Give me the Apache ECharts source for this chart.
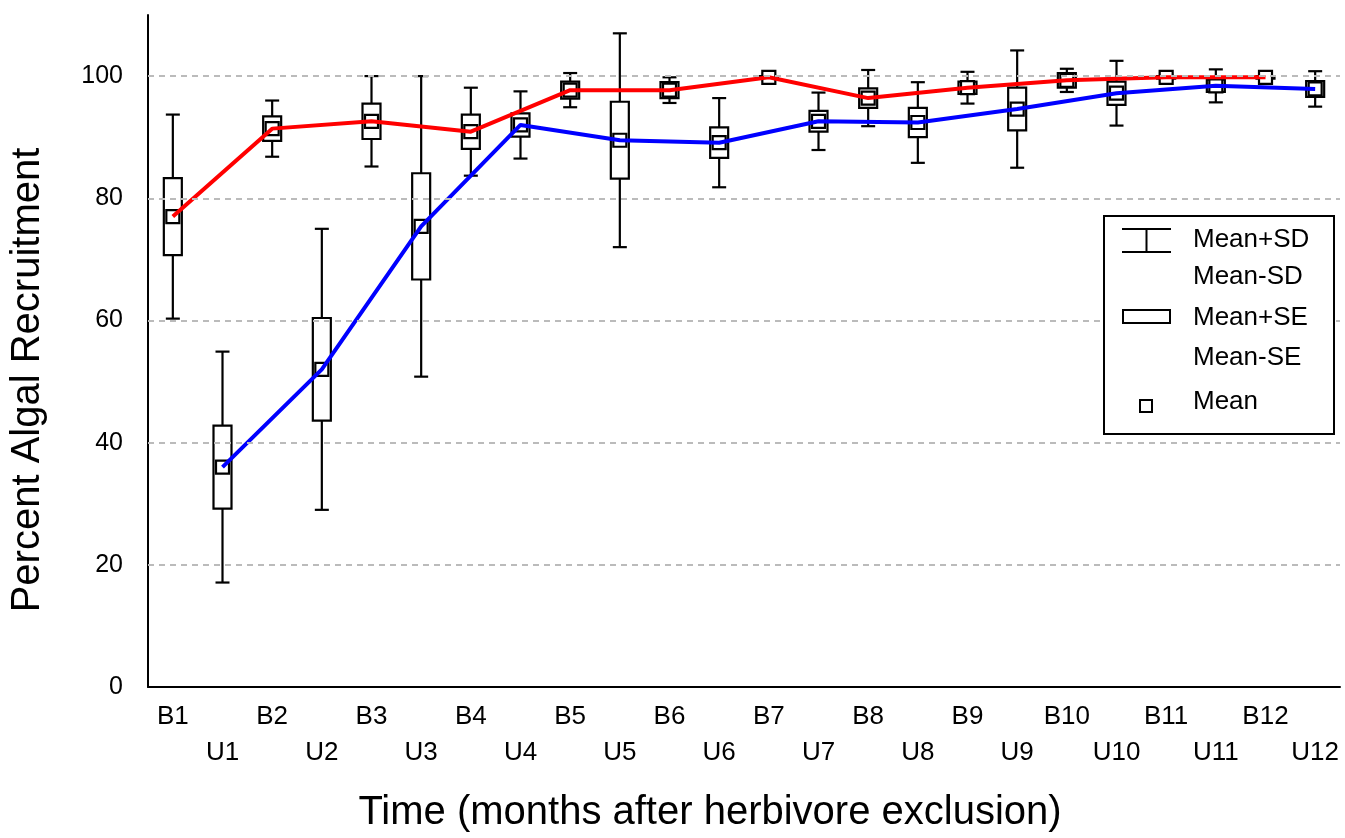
<!DOCTYPE html>
<html>
<head>
<meta charset="utf-8">
<script src="https://cdn.jsdelivr.net/npm/echarts@6/dist/echarts.min.js"></script>
<style>
  html, body { margin: 0; padding: 0; background: #fff; }
  #chart { width: 1345px; height: 838px; }
</style>
</head>
<body>
<div id="chart"></div>
<script>
// B = browsed (open), U = herbivores excluded
var bLabels = ['B1', 'B2', 'B3', 'B4', 'B5', 'B6', 'B7', 'B8', 'B9', 'B10', 'B11', 'B12'];
var uLabels = ['U1', 'U2', 'U3', 'U4', 'U5', 'U6', 'U7', 'U8', 'U9', 'U10', 'U11', 'U12'];

var bMean = [77.0, 91.4, 92.6, 90.9, 97.7, 97.7, 99.8, 96.4, 98.1, 99.3, 99.8, 99.8];
var bSE   = [6.3, 2.0, 2.9, 2.8, 1.4, 1.3, 0.2, 1.6, 1.0, 1.2, 0.2, 0.2];
var bSD   = [16.7, 4.6, 7.4, 7.2, 2.8, 2.1, 0.6, 4.6, 2.6, 1.9, 0.4, 0.2];

var uMean = [36.0, 52.0, 75.4, 92.0, 89.5, 89.1, 92.6, 92.4, 94.6, 97.2, 98.4, 97.9];
var uSE   = [6.8, 8.4, 8.7, 1.9, 6.3, 2.5, 1.7, 2.4, 3.5, 1.9, 1.0, 1.3];
var uSD   = [18.9, 23.0, 24.6, 5.5, 17.5, 7.3, 4.7, 6.6, 9.6, 5.3, 2.7, 2.9];

var yTicks = [0, 20, 40, 60, 80, 100];

var FONT = 'Liberation Sans, Arial, sans-serif';

// interleave B/U into one category axis
var categories = [];
var boxData = [];
var redLine = [];
var blueLine = [];
for (var i = 0; i < bLabels.length; i++) {
  categories.push(bLabels[i], uLabels[i]);
  boxData.push([2 * i, bMean[i], bSE[i], bSD[i]]);
  boxData.push([2 * i + 1, uMean[i], uSE[i], uSD[i]]);
  redLine.push(bMean[i], null);
  blueLine.push(null, uMean[i]);
}

function renderBox(params, api) {
  var idx = api.value(0);
  var mean = api.value(1), se = api.value(2), sd = api.value(3);
  var c = api.coord([idx, mean]);
  var sdTop = api.coord([idx, mean + sd])[1];
  var sdBot = api.coord([idx, mean - sd])[1];
  var seTop = api.coord([idx, mean + se])[1];
  var seBot = api.coord([idx, mean - se])[1];
  var bw = 18, cw = 14, ms = 13;
  var st = { stroke: '#000', lineWidth: 2.2, fill: null };
  return {
    type: 'group',
    children: [
      { type: 'line', shape: { x1: c[0], y1: sdTop, x2: c[0], y2: sdBot }, style: st },
      { type: 'line', shape: { x1: c[0] - cw / 2, y1: sdTop, x2: c[0] + cw / 2, y2: sdTop }, style: st },
      { type: 'line', shape: { x1: c[0] - cw / 2, y1: sdBot, x2: c[0] + cw / 2, y2: sdBot }, style: st },
      { type: 'rect', shape: { x: c[0] - bw / 2, y: seTop, width: bw, height: seBot - seTop },
        style: { fill: '#fff', stroke: '#000', lineWidth: 2.2 } },
      { type: 'rect', shape: { x: c[0] - ms / 2, y: c[1] - ms / 2, width: ms, height: ms },
        style: { fill: '#fff', stroke: '#000', lineWidth: 2.2 } }
    ]
  };
}

var chart = echarts.init(document.getElementById('chart'));

// legend drawn by hand (mean±SD / mean±SE / mean)
var lgX = 1103, lgY = 215;
var legendGraphic = [
  { type: 'rect', left: lgX, top: lgY, shape: { width: 230, height: 218 },
    style: { fill: '#fff', stroke: '#000', lineWidth: 2 }, z: 100 },
  { type: 'line', shape: { x1: 1122, y1: 229, x2: 1171, y2: 229 }, style: { stroke: '#000', lineWidth: 2 }, z: 101 },
  { type: 'line', shape: { x1: 1122, y1: 252, x2: 1171, y2: 252 }, style: { stroke: '#000', lineWidth: 2 }, z: 101 },
  { type: 'line', shape: { x1: 1146.5, y1: 229, x2: 1146.5, y2: 252 }, style: { stroke: '#000', lineWidth: 2 }, z: 101 },
  { type: 'rect', shape: { x: 1123, y: 310, width: 47, height: 13 }, style: { fill: '#fff', stroke: '#000', lineWidth: 2 }, z: 101 },
  { type: 'rect', shape: { x: 1140, y: 400, width: 12, height: 12 }, style: { fill: '#fff', stroke: '#000', lineWidth: 2 }, z: 101 }
];
var legendTexts = [['Mean+SD', 240], ['Mean-SD', 277], ['Mean+SE', 318], ['Mean-SE', 358], ['Mean', 402]];
legendTexts.forEach(function (t) {
  legendGraphic.push({
    type: 'text', x: 1193, y: t[1], z: 101,
    style: { text: t[0], font: '26px ' + FONT, fill: '#000', verticalAlign: 'middle' }
  });
});

var option = {
  animation: false,
  backgroundColor: '#fff',
  grid: { left: 148, right: 5, top: 15, bottom: 150 },
  xAxis: {
    type: 'category',
    data: categories,
    boundaryGap: true,
    name: 'Time (months after herbivore exclusion)',
    nameLocation: 'middle',
    nameGap: 106,
    nameTextStyle: { fontFamily: FONT, fontSize: 40, color: '#000', padding: [0, 68, 0, 0] },
    axisLine: { lineStyle: { color: '#000', width: 2 } },
    axisTick: { inside: true, length: 5, lineStyle: { color: '#000', width: 2 } },
    axisLabel: {
      interval: 0,
      margin: 12,
      fontFamily: FONT,
      fontSize: 26,
      color: '#000',
      lineHeight: 36,
      formatter: function (v, idx) { return idx % 2 ? '\n' + v : v; }
    },
    splitLine: { show: false }
  },
  yAxis: {
    type: 'value',
    min: 0,
    max: 110,
    name: 'Percent Algal Recruitment',
    nameLocation: 'middle',
    nameRotate: 90,
    nameGap: 100,
    nameTextStyle: { fontFamily: FONT, fontSize: 40, color: '#000', padding: [0, 58, 0, 0] },
    axisLine: { show: true, lineStyle: { color: '#000', width: 2 } },
    axisTick: { show: true, inside: true, length: 5, customValues: yTicks, lineStyle: { color: '#000', width: 2 } },
    axisLabel: { customValues: yTicks, margin: 25, fontFamily: FONT, fontSize: 25, color: '#000' },
    splitLine: { show: false }
  },
  graphic: legendGraphic,
  series: [
    {
      type: 'line',
      data: [],
      silent: true,
      markLine: {
        silent: true,
        symbol: 'none',
        label: { show: false },
        lineStyle: { color: '#bbb', type: [6, 5], width: 2 },
        data: yTicks.slice(1).map(function (v) { return { yAxis: v }; })
      },
      z: 1
    },
    {
      type: 'custom',
      renderItem: renderBox,
      data: boxData,
      encode: { x: 0, y: 1 },
      z: 2
    },
    {
      name: 'B',
      type: 'line',
      data: redLine,
      connectNulls: true,
      symbol: 'none',
      lineStyle: { color: '#ff0000', width: 4 },
      z: 3
    },
    {
      name: 'U',
      type: 'line',
      data: blueLine,
      connectNulls: true,
      symbol: 'none',
      lineStyle: { color: '#0000ff', width: 4 },
      z: 3
    }
  ]
};
chart.setOption(option);
</script>
</body>
</html>
